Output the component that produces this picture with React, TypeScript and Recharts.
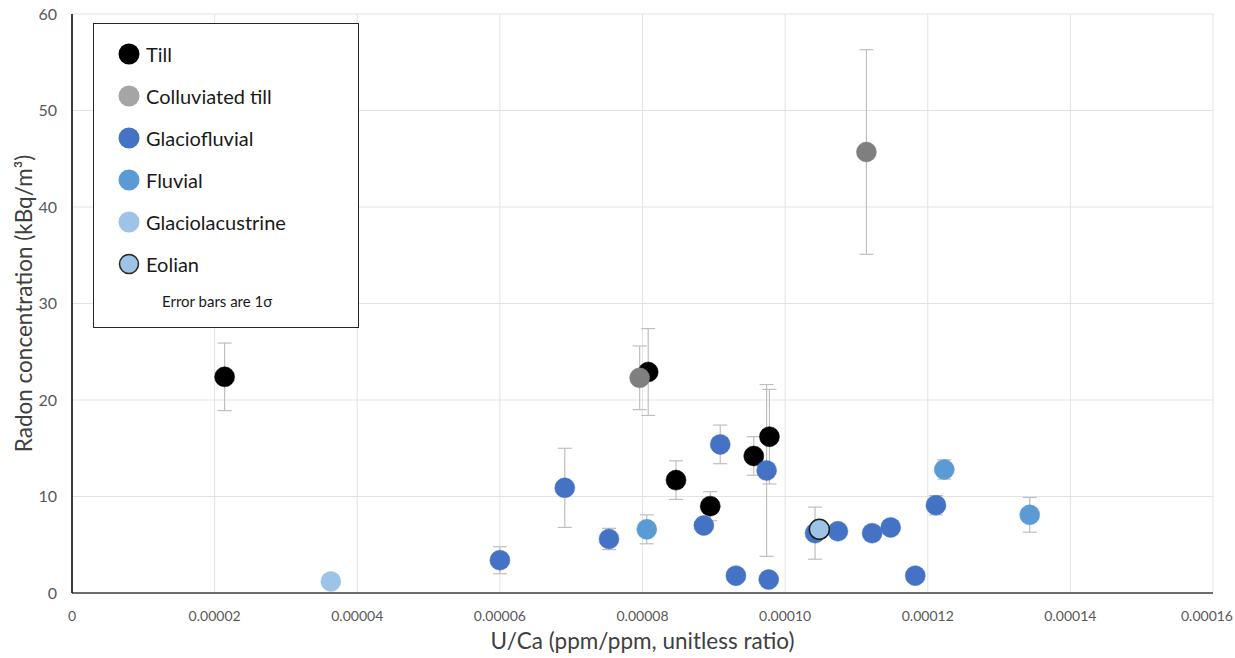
import { ScatterChart, Scatter, XAxis, YAxis, CartesianGrid, ErrorBar } from 'recharts';

// U/Ca ratio (x), radon concentration kBq/m3 (y), 1 sigma error (err)
const tillX = [0.0000214, 0.0000808, 0.0000847, 0.0000895, 0.0000956, 0.0000978];
const tillY = [22.4, 22.9, 11.7, 9.0, 14.2, 16.2];
const tillErr = [3.5, 4.5, 2.0, 1.5, 2.0, 4.9];

const colluvX = [0.0000796, 0.0001114];
const colluvY = [22.3, 45.7];
const colluvErr = [3.3, 10.6];

const glacioFluvX = [
  0.00006, 0.0000691, 0.0000753, 0.0000886, 0.0000909, 0.0000931, 0.0000974,
  0.0000977, 0.0001042, 0.0001074, 0.0001122, 0.0001148, 0.00011825, 0.00012115,
];
const glacioFluvY = [3.4, 10.9, 5.6, 7.0, 15.4, 1.8, 12.7, 1.4, 6.2, 6.4, 6.2, 6.8, 1.8, 9.1];
const glacioFluvErr = [1.4, 4.1, 1.1, 0.5, 2.0, 0.3, 8.9, 0.3, 2.7, 0.5, 0.7, 0.4, 0.3, 1.0];

const fluvX = [0.0000806, 0.00012232, 0.0001343];
const fluvY = [6.6, 12.8, 8.1];
const fluvErr = [1.5, 1.0, 1.8];

const glacioLacX = [0.0000363];
const glacioLacY = [1.2];
const glacioLacErr = [0.2];

const eolianX = [0.0001048];
const eolianY = [6.6];
const eolianErr = [0.3];

const xTicks = [0, 0.00002, 0.00004, 0.00006, 0.00008, 0.0001, 0.00012, 0.00014, 0.00016];
const yTicks = [0, 10, 20, 30, 40, 50, 60];

const build = (xs: number[], ys: number[], errs: number[]) =>
  xs.map((x, i) => ({ x, y: ys[i], err: errs[i] }));

const series = [
  { name: 'Till', data: build(tillX, tillY, tillErr), fill: '#000000', stroke: '#000000' },
  { name: 'Colluviated till', data: build(colluvX, colluvY, colluvErr), fill: '#7f7f7f', stroke: '#7f7f7f' },
  { name: 'Glaciofluvial', data: build(glacioFluvX, glacioFluvY, glacioFluvErr), fill: '#4472C4', stroke: '#4472C4' },
  { name: 'Fluvial', data: build(fluvX, fluvY, fluvErr), fill: '#5B9BD5', stroke: '#5B9BD5' },
  { name: 'Glaciolacustrine', data: build(glacioLacX, glacioLacY, glacioLacErr), fill: '#9DC3E6', stroke: '#9DC3E6' },
  { name: 'Eolian', data: build(eolianX, eolianY, eolianErr), fill: '#9DC3E6', stroke: '#1f1f1f' },
];

const legendFill: Record<string, string> = {
  'Till': '#000000',
  'Colluviated till': '#a5a5a5',
  'Glaciofluvial': '#4472C4',
  'Fluvial': '#5B9BD5',
  'Glaciolacustrine': '#9DC3E6',
  'Eolian': '#9DC3E6',
};

const font = "Lato, 'Open Sans', sans-serif";

function LegendBox() {
  return (
    <div
      style={{
        position: 'absolute',
        left: 93,
        top: 23,
        width: 266,
        height: 305,
        border: '1px solid #262626',
        background: '#fff',
        boxSizing: 'border-box',
        fontFamily: font,
      }}
    >
      {series.map((s, i) => (
        <div
          key={s.name}
          style={{ position: 'absolute', left: 24, top: 19 + i * 42, height: 22, display: 'flex', alignItems: 'center' }}
        >
          <svg width={22} height={22}>
            <circle
              cx={11}
              cy={11}
              r={s.name === 'Eolian' ? 9.5 : 10.5}
              fill={legendFill[s.name]}
              stroke={s.name === 'Eolian' ? '#262626' : 'none'}
              strokeWidth={1.5}
            />
          </svg>
          <span style={{ marginLeft: 6, fontSize: 20, color: '#1a1a1a' }}>{s.name}</span>
        </div>
      ))}
      <div style={{ position: 'absolute', left: 68, top: 268, fontSize: 15, color: '#1a1a1a' }}>Error bars are 1σ</div>
    </div>
  );
}

const makeShape = (fill: string, stroke: string, eolian: boolean) => (props: any) => (
  <circle cx={props.cx} cy={props.cy} r={10} fill={fill} stroke={stroke} strokeWidth={eolian ? 1.5 : 0.5} />
);

const XTick = (props: any) => {
  const { x, y, payload } = props;
  const v = payload.value as number;
  const label = v === 0 ? '0' : v.toFixed(5);
  const last = v === xTicks[xTicks.length - 1];
  return (
    <text
      x={last ? 1233 : x}
      y={y}
      dy="0.71em"
      textAnchor={last ? 'end' : 'middle'}
      fontSize={14}
      fill="#595959"
      fontFamily={font}
    >
      {label}
    </text>
  );
};

export default function App() {
  return (
    <div style={{ position: 'absolute', left: 0, top: 0, width: 1235, height: 658, background: '#fff' }}>
      <ScatterChart width={1235} height={658} margin={{ top: 14, right: 22, bottom: 5, left: 12 }}>
        <CartesianGrid stroke="#e3e3e3" strokeWidth={1} />
        <XAxis
          type="number"
          dataKey="x"
          domain={[0, 0.00016]}
          ticks={xTicks}
          tick={<XTick />}
          tickLine={false}
          tickMargin={12}
          axisLine={{ stroke: '#404040', strokeWidth: 1.5 }}
          height={60}
          label={{
            value: 'U/Ca (ppm/ppm, unitless ratio)',
            position: 'insideBottom',
            offset: 4,
            style: { fontSize: 22.5, fill: '#404040', fontFamily: font, textAnchor: 'middle' },
          }}
        />
        <YAxis
          type="number"
          dataKey="y"
          domain={[0, 60]}
          ticks={yTicks}
          tick={{ fontSize: 16, fill: '#595959', fontFamily: font }}
          tickLine={false}
          tickMargin={9}
          axisLine={{ stroke: '#000000', strokeWidth: 1.5 }}
          width={60}
          label={{
            value: 'Radon concentration (kBq/m³)',
            angle: -90,
            position: 'insideLeft',
            offset: 12,
            style: { fontSize: 22.5, fill: '#404040', fontFamily: font, textAnchor: 'middle' },
          }}
        />
        {series.map((s) => (
          <Scatter
            key={s.name}
            name={s.name}
            data={s.data}
            isAnimationActive={false}
            shape={makeShape(s.fill, s.stroke, s.name === 'Eolian')}
          >
            <ErrorBar dataKey="err" direction="y" width={7} stroke="#bfbfbf" strokeWidth={1.2} isAnimationActive={false} />
          </Scatter>
        ))}
      </ScatterChart>
      <LegendBox />
    </div>
  );
}
